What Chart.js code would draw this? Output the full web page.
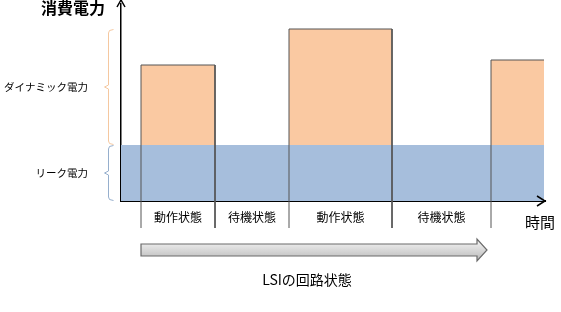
<!DOCTYPE html>
<html>
<head>
<meta charset="utf-8">
<script src="https://cdn.jsdelivr.net/npm/chart.js@4"></script>
<style>
  html, body { margin: 0; padding: 0; background: #fff; }
  #wrap { width: 561px; height: 312px; }
</style>
</head>
<body>
<div id="wrap"><canvas id="c"></canvas></div>
<script>
// 時間軸上の区間（任意単位）
const segStart = [20, 94, 168, 271, 370];
const segEnd = [94, 168, 271, 370, 423];
const stateLabels = ['動作状態', '待機状態', '動作状態', '待機状態', ''];
// 各区間の消費電力（リーク分を含む合計）
const totalPower = [136, 56, 172, 56, 141];
const leakPower = 56;
// 縦軸ラベル
const powerLabels = ['ダイナミック電力', 'リーク電力'];
const powerLabelAt = [114, 28];

const FONT = "'Noto Sans CJK JP', 'Noto Sans', sans-serif";
const ORANGE = 'rgb(250, 201, 162)';
const BLUE = 'rgb(166, 190, 220)';
const EDGE = '#555';

const datasets = [];

// 動作状態のバー（塗り）
segStart.forEach((s, i) => {
  if (totalPower[i] <= leakPower) return;
  datasets.push({
    data: [{x: s, y: 0}, {x: s, y: totalPower[i]}, {x: segEnd[i], y: totalPower[i]}, {x: segEnd[i], y: 0}],
    showLine: true, pointRadius: 0, borderWidth: 0,
    backgroundColor: ORANGE, fill: 'origin', order: 3
  });
});

// リーク電力の帯
datasets.push({
  data: [{x: 0, y: leakPower}, {x: segEnd[segEnd.length - 1], y: leakPower}],
  showLine: true, pointRadius: 0, borderWidth: 0,
  backgroundColor: BLUE, fill: 'origin', order: 2
});

// バーの輪郭と区切り線（軸の下まで伸びる）
segStart.forEach((s, i) => {
  if (totalPower[i] <= leakPower) return;
  const last = i === segStart.length - 1;
  const pts = [{x: s, y: -27}, {x: s, y: totalPower[i]}, {x: segEnd[i], y: totalPower[i]}];
  if (!last) pts.push({x: segEnd[i], y: -27});
  datasets.push({
    data: pts, showLine: true, pointRadius: 0, borderWidth: 1,
    borderColor: EDGE, fill: false, clip: false, order: 1
  });
});

function arrowHead(ctx, x, y, dir) {
  ctx.save();
  ctx.strokeStyle = '#000';
  ctx.lineWidth = 1.5;
  ctx.beginPath();
  if (dir === 'up') {
    ctx.moveTo(x - 4, y + 7); ctx.lineTo(x, y); ctx.lineTo(x + 4, y + 7);
  } else {
    ctx.moveTo(x - 8, y - 5); ctx.lineTo(x, y); ctx.lineTo(x - 8, y + 5);
  }
  ctx.stroke();
  ctx.restore();
}

function brace(ctx, x, top, bottom, color) {
  const mid = (top + bottom) / 2;
  ctx.save();
  ctx.strokeStyle = color;
  ctx.lineWidth = 1;
  ctx.beginPath();
  ctx.moveTo(x + 5, top + 0.5);
  ctx.lineTo(x + 1, top + 1.5);
  ctx.lineTo(x, top + 4);
  ctx.lineTo(x, mid - 2);
  ctx.lineTo(x - 4, mid);
  ctx.lineTo(x, mid + 2);
  ctx.lineTo(x, bottom - 4);
  ctx.lineTo(x + 1, bottom - 1.5);
  ctx.lineTo(x + 5, bottom - 0.5);
  ctx.stroke();
  ctx.restore();
}

const decor = {
  id: 'decor',
  afterDraw(chart) {
    const ctx = chart.ctx;
    const xs = chart.scales.x, ys = chart.scales.y;
    const area = chart.chartArea;

    arrowHead(ctx, area.left, area.top - 4, 'up');
    arrowHead(ctx, area.right, area.bottom, 'right');

    // 波括弧
    const peak = Math.max(...totalPower);
    brace(ctx, 108.5, ys.getPixelForValue(peak), ys.getPixelForValue(leakPower), 'rgb(245, 200, 160)');
    brace(ctx, 108.5, ys.getPixelForValue(leakPower), ys.getPixelForValue(0), 'rgb(150, 175, 205)');

    ctx.save();
    ctx.fillStyle = '#000';
    ctx.textBaseline = 'middle';
    ctx.font = 'bold 16px ' + FONT;
    ctx.textAlign = 'right';
    ctx.fillText('消費電力', 105, 8);
    ctx.font = '15px ' + FONT;
    ctx.textAlign = 'center';
    ctx.fillText('時間', 540, 222);

    // 回路状態の矢印
    const x0 = xs.getPixelForValue(20), x1 = xs.getPixelForValue(356), tip = xs.getPixelForValue(366);
    const yc = 250;
    const g = ctx.createLinearGradient(0, yc - 7, 0, yc + 7);
    g.addColorStop(0, '#ececec');
    g.addColorStop(1, '#c4c4c4');
    ctx.beginPath();
    ctx.moveTo(x0, yc - 6);
    ctx.lineTo(x1, yc - 6);
    ctx.lineTo(x1, yc - 11);
    ctx.lineTo(tip, yc);
    ctx.lineTo(x1, yc + 11);
    ctx.lineTo(x1, yc + 6);
    ctx.lineTo(x0, yc + 6);
    ctx.closePath();
    ctx.fillStyle = g;
    ctx.fill();
    ctx.strokeStyle = '#6a6a6a';
    ctx.lineWidth = 1.2;
    ctx.stroke();

    ctx.fillStyle = '#000';
    ctx.font = '14px ' + FONT;
    ctx.fillText('LSIの回路状態', 307, 280);
    ctx.restore();
  }
};

new Chart(document.getElementById('c'), {
  type: 'scatter',
  data: { datasets },
  options: {
    responsive: true,
    maintainAspectRatio: false,
    animation: false,
    layout: { padding: { top: 4, right: 16, left: 0, bottom: 0 } },
    plugins: { legend: { display: false }, tooltip: { enabled: false } },
    scales: {
      x: {
        type: 'linear', min: 0, max: 424,
        grid: { display: false, drawTicks: false },
        border: { display: true, color: '#000', width: 2 },
        afterFit(scale) {
          scale.height = 111;
          scale.paddingLeft = 0; scale.paddingRight = 0;
        },
        afterBuildTicks(scale) {
          scale.ticks = segStart.map((s, i) => ({ value: (s + segEnd[i]) / 2 }))
            .filter((t, i) => stateLabels[i]);
        },
        ticks: {
          padding: 9, maxRotation: 0, autoSkip: false,
          color: '#000', font: { family: FONT, size: 12 },
          callback(value) {
            const i = segStart.findIndex((s, k) => (s + segEnd[k]) / 2 === value);
            return stateLabels[i];
          }
        }
      },
      y: {
        type: 'linear', min: 0, max: 197,
        grid: { display: false, drawTicks: false },
        border: { display: true, color: '#000', width: 1.5 },
        afterFit(scale) {
          scale.width = 121;
          scale.paddingTop = 0; scale.paddingBottom = 0;
        },
        afterBuildTicks(scale) {
          scale.ticks = powerLabelAt.map(v => ({ value: v }));
        },
        ticks: {
          padding: 33, color: '#000', font: { family: FONT, size: 10.5 },
          callback(value) { return powerLabels[powerLabelAt.indexOf(value)]; }
        }
      }
    }
  },
  plugins: [decor]
});
</script>
</body>
</html>
